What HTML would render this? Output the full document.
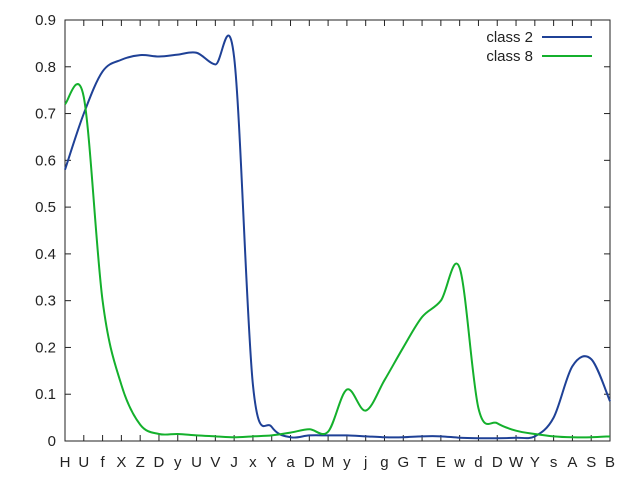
<!DOCTYPE html>
<html><head><meta charset="utf-8"><style>
body{margin:0;background:#fff}
text{font-family:"Liberation Sans","DejaVu Sans",sans-serif;font-size:15px;fill:#222}
</style></head><body>
<svg id="chart" width="640" height="480" xmlns="http://www.w3.org/2000/svg">
<rect x="65" y="20" width="545" height="421" fill="none" stroke="#222" stroke-width="1"/>
<g id="axes"></g><g id="series"></g>
<g>
<text x="533" y="42" text-anchor="end">class 2</text>
<line x1="542" y1="37" x2="592" y2="37" stroke="#1f4196" stroke-width="2"/>
<text x="533" y="61" text-anchor="end">class 8</text>
<line x1="542" y1="56" x2="592" y2="56" stroke="#14b02c" stroke-width="2"/>
</g>
</svg>
<script>
const categories=["H","U","f","X","Z","D","y","U","V","J","x","Y","a","D","M","y","j","g","G","T","E","w","d","D","W","Y","s","A","S","B"];
const class2=[0.58,0.70,0.79,0.815,0.825,0.822,0.826,0.83,0.805,0.82,0.12,0.03,0.008,0.012,0.012,0.012,0.01,0.008,0.008,0.01,0.01,0.007,0.006,0.006,0.007,0.01,0.05,0.16,0.175,0.085];
const class8=[0.72,0.735,0.30,0.12,0.035,0.015,0.015,0.012,0.01,0.008,0.01,0.012,0.018,0.025,0.02,0.11,0.065,0.13,0.2,0.265,0.3,0.37,0.07,0.038,0.022,0.015,0.01,0.008,0.008,0.01];
const yTicks=[0,0.1,0.2,0.3,0.4,0.5,0.6,0.7,0.8,0.9];
const X0=65,X1=610,Y0=441,Y1=20,YMAX=0.9;
const xs=i=>X0+i*(X1-X0)/(categories.length-1);
const ys=v=>Y0-v*(Y0-Y1)/YMAX;
const NS="http://www.w3.org/2000/svg";
const axes=document.getElementById('axes');
function mk(t,a,p){const e=document.createElementNS(NS,t);for(const k in a)e.setAttribute(k,a[k]);p.appendChild(e);return e;}
yTicks.forEach(v=>{
 const y=ys(v);
 const l=mk('line',{x1:X0,x2:X0+6,y1:y,y2:y,stroke:'#222'},axes);
 
 
 const r=mk('line',{x1:X1-6,x2:X1,y1:y,y2:y,stroke:'#222'},axes);
 
 
 const t=mk('text',{x:X0-9,y:y+5,'text-anchor':'end'},axes);t.textContent=(v===0?'0':v.toFixed(1));
 
 
});
categories.forEach((c,i)=>{
 const x=xs(i);
 const b=mk('line',{x1:x,x2:x,y1:Y0,y2:Y0-6,stroke:'#222'},axes);
 
 
 const tp=mk('line',{x1:x,x2:x,y1:Y1,y2:Y1+6,stroke:'#222'},axes);
 
 
 const t=mk('text',{x:x,y:467,'text-anchor':'middle'},axes);t.textContent=c;
 
 
});
function path(vals){
 const p=vals.map((v,i)=>[xs(i),ys(v)]);
 let d='M'+p[0][0]+','+p[0][1];
 for(let i=0;i<p.length-1;i++){
  const a=p[i-1]||p[i],b=p[i],c=p[i+1],e=p[i+2]||c;
  const c1=[b[0]+(c[0]-a[0])/6,b[1]+(c[1]-a[1])/6],c2=[c[0]-(e[0]-b[0])/6,c[1]-(e[1]-b[1])/6];
  d+=' C'+c1+' '+c2+' '+c;
 }
 return d;
}
const g=document.getElementById('series');
const s2=mk('path',{d:path(class2),fill:'none',stroke:'#1f4196','stroke-width':2},g);


const s8=mk('path',{d:path(class8),fill:'none',stroke:'#14b02c','stroke-width':2},g);


</script>
</body></html>
